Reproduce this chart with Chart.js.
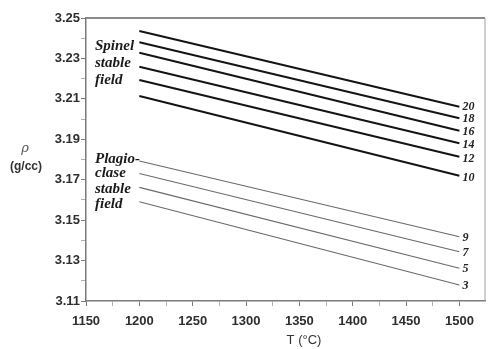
<!DOCTYPE html>
<html>
<head>
<meta charset="utf-8">
<script src="https://cdn.jsdelivr.net/npm/chart.js@4/dist/chart.umd.min.js"></script>
<style>
  html, body { margin: 0; padding: 0; background: #fff; }
  #wrap { width: 488px; height: 349px; }
</style>
</head>
<body>
<div id="wrap"><canvas id="rho"></canvas></div>
<script>
// ── Data: density ρ (g/cc) vs T (°C) at several pressures (kbar) ──
const TEMPS = [1200, 1500];

const SPINEL_P        = ['20', '18', '16', '14', '12', '10'];
const SPINEL_RHO_1200 = [3.2436, 3.2380, 3.2328, 3.2259, 3.2193, 3.2114];
const SPINEL_RHO_1500 = [3.2061, 3.2004, 3.1942, 3.1880, 3.1814, 3.1720];

const PLAG_P        = ['9', '7', '5', '3'];
const PLAG_RHO_1200 = [3.1793, 3.1731, 3.1662, 3.1591];
const PLAG_RHO_1500 = [3.1418, 3.1344, 3.1262, 3.1179];

const X_TICKS = [1150, 1200, 1250, 1300, 1350, 1400, 1450, 1500];
const Y_TICKS = [3.11, 3.13, 3.15, 3.17, 3.19, 3.21, 3.23, 3.25];

const X_MIN = 1150, X_MAX = 1524;
const Y_MIN = 3.11, Y_MAX = 3.25;

// ── Build datasets ──
function makeSet(label, a, b, color, width) {
  return {
    label,
    data: [{ x: TEMPS[0], y: a }, { x: TEMPS[1], y: b }],
    borderColor: color,
    borderWidth: width,
    pointRadius: 0,
    fill: false,
    tension: 0
  };
}

const datasets = [
  ...SPINEL_P.map((p, i) => makeSet(p, SPINEL_RHO_1200[i], SPINEL_RHO_1500[i], '#141414', 2)),
  ...PLAG_P.map((p, i) => makeSet(p, PLAG_RHO_1200[i], PLAG_RHO_1500[i], '#6a6a6a', 1.1))
];

// minor ticks halfway between labelled ones
const withMinor = (arr) => {
  const out = [];
  arr.forEach((v, i) => {
    out.push(v);
    if (i < arr.length - 1) out.push((v + arr[i + 1]) / 2);
  });
  return out;
};
const isMajor = (arr, v) => arr.some(t => Math.abs(t - v) < 1e-6);

// ── Text overlays: box, pressure labels, field names, axis titles ──
const overlay = {
  id: 'overlay',
  afterDatasetsDraw(chart) {
    const { ctx, chartArea: a, scales: { x, y } } = chart;
    ctx.save();

    // top and right frame
    ctx.strokeStyle = '#8a8a8a';
    ctx.lineWidth = 2;
    ctx.beginPath();
    ctx.moveTo(a.left, a.top);
    ctx.lineTo(a.right, a.top);
    ctx.stroke();
    ctx.lineWidth = 1;
    ctx.strokeStyle = '#a0a0a0';
    ctx.beginPath();
    ctx.moveTo(a.right, a.top);
    ctx.lineTo(a.right, a.bottom);
    ctx.stroke();

    // pressure labels at line ends
    ctx.fillStyle = '#222';
    ctx.font = 'italic bold 12px "Liberation Serif", "Times New Roman", serif';
    ctx.textAlign = 'left';
    ctx.textBaseline = 'middle';
    chart.data.datasets.forEach((ds, i) => {
      const last = ds.data[ds.data.length - 1];
      const off = i < SPINEL_P.length ? i * 0.5 : 1;
      ctx.fillText(ds.label, x.getPixelForValue(last.x) + 3, y.getPixelForValue(last.y) + off);
    });

    // field names
    ctx.font = 'italic bold 15px "Liberation Serif", "Times New Roman", serif';
    ctx.fillStyle = '#1a1a1a';
    const lx = a.left + 9;
    [['Spinel', 46], ['stable', 63], ['field', 80]].forEach(([t, ty]) => ctx.fillText(t, lx, ty));
    [['Plagio-', 159], ['clase', 173], ['stable', 189], ['field', 204]].forEach(([t, ty]) => ctx.fillText(t, lx, ty));

    // y axis title
    ctx.textAlign = 'center';
    ctx.fillStyle = '#555';
    ctx.font = 'italic 13px "DejaVu Serif", serif';
    ctx.fillText('ρ', 25, 149);
    ctx.fillStyle = '#333';
    ctx.font = 'bold 12px "Liberation Sans", Arial, sans-serif';
    ctx.fillText('(g/cc)', 26, 167);

    // x axis title
    ctx.font = '13px "Liberation Sans", Arial, sans-serif';
    ctx.fillText('T (°C)', 304, 340);

    ctx.restore();
  }
};

new Chart(document.getElementById('rho'), {
  type: 'line',
  data: { datasets },
  options: {
    responsive: true,
    maintainAspectRatio: false,
    animation: false,
    layout: { padding: { left: 0, right: 3, top: 18, bottom: 0 } },
    plugins: { legend: { display: false }, tooltip: { enabled: false } },
    scales: {
      x: {
        type: 'linear',
        min: X_MIN,
        max: X_MAX,
        afterBuildTicks: s => { s.ticks = withMinor(X_TICKS).map(v => ({ value: v })); },
        afterFit: s => { s.height = 48; },
        border: { color: '#7a7a7a', width: 1.5 },
        grid: {
          drawOnChartArea: false,
          tickLength: 5,
          color: '#7a7a7a',
          tickColor: c => isMajor(X_TICKS, c.tick.value) ? '#7a7a7a' : '#b0b0b0'
        },
        ticks: {
          autoSkip: false,
          maxRotation: 0,
          padding: 8,
          color: '#2e2e2e',
          font: { family: '"Liberation Sans", Arial, sans-serif', size: 13, weight: 'bold' },
          callback: v => isMajor(X_TICKS, v) ? String(v) : ''
        }
      },
      y: {
        min: Y_MIN,
        max: Y_MAX,
        afterBuildTicks: s => { s.ticks = withMinor(Y_TICKS).map(v => ({ value: v })); },
        afterFit: s => { s.width = 86; },
        border: { color: '#7a7a7a', width: 1.5 },
        grid: {
          drawOnChartArea: false,
          tickLength: 5,
          color: '#7a7a7a',
          tickColor: c => isMajor(Y_TICKS, c.tick.value) ? '#7a7a7a' : '#b0b0b0'
        },
        ticks: {
          autoSkip: false,
          padding: 1,
          color: '#2e2e2e',
          font: { family: '"Liberation Sans", Arial, sans-serif', size: 13, weight: 'bold' },
          callback: v => isMajor(Y_TICKS, v) ? v.toFixed(2) : ''
        }
      }
    }
  },
  plugins: [overlay]
});
</script>
</body>
</html>
